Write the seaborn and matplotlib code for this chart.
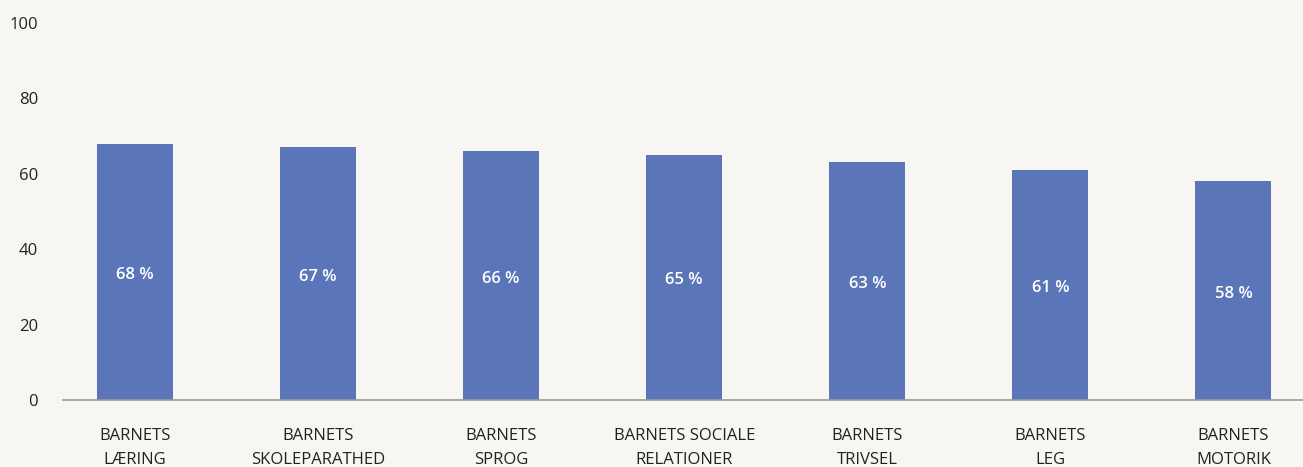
import pandas as pd
import matplotlib.pyplot as plt
import seaborn as sns

categories = ['BARNETS\nLÆRING', 'BARNETS\nSKOLEPARATHED', 'BARNETS\nSPROG',
              'BARNETS SOCIALE\nRELATIONER', 'BARNETS\nTRIVSEL', 'BARNETS\nLEG',
              'BARNETS\nMOTORIK']
values = [68, 67, 66, 65, 63, 61, 58]

bg = '#f7f6f2'
bar_color = '#5a76b8'

sns.set_theme(style='white')
plt.rcParams['font.family'] = ['Open Sans', 'DejaVu Sans']

df = pd.DataFrame({'category': categories, 'value': values})

fig = plt.figure(figsize=(13.03, 4.67), dpi=100, facecolor=bg)
ax = fig.add_axes([63 / 1303, 67 / 467, 1 - 63 / 1303, 377 / 467])
ax.set_facecolor(bg)

sns.barplot(data=df, x='category', y='value', color=bar_color,
            width=0.415, saturation=1, linewidth=0, ax=ax)

for i, v in enumerate(values):
    ax.text(i, v / 2 - 0.8, f'{v} %', ha='center', va='center', color='white',
            fontsize=12, fontweight='semibold')

ax.set_ylim(0, 100)
ax.set_xlim(-0.393, 6.38)
ax.set_yticks(range(0, 101, 20))
ax.set_xlabel('')
ax.set_ylabel('')
ax.tick_params(axis='y', length=0, pad=18, labelsize=12, colors='#222222')
ax.tick_params(axis='x', length=0, pad=20, labelsize=12, colors='#222222')
for lbl in ax.get_yticklabels():
    lbl.set_horizontalalignment('right')
for lbl in ax.get_xticklabels():
    lbl.set_linespacing(1.65)

for s in ['top', 'right', 'left']:
    ax.spines[s].set_visible(False)
ax.spines['bottom'].set_color('#999999')
ax.spines['bottom'].set_linewidth(1.2)

fig.savefig('out.png', dpi=100, facecolor=bg)
